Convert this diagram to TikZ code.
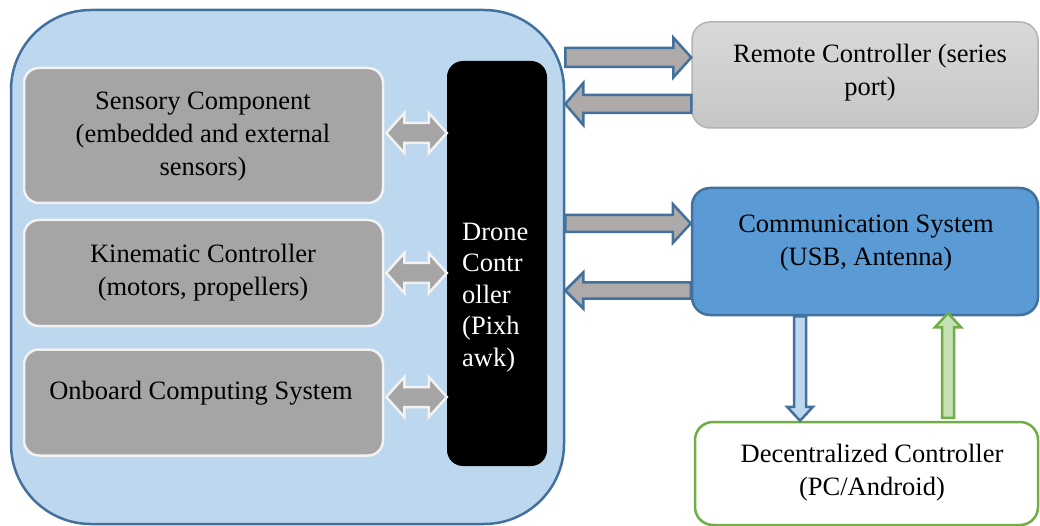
\documentclass[tikz,border=0pt]{standalone}
\usepackage{fontspec}
\setmainfont{Liberation Serif}
\usetikzlibrary{calc}

\definecolor{panelblue}{HTML}{BDD7EE}
\definecolor{edgeblue}{HTML}{41719C}
\definecolor{unitgray}{HTML}{A5A5A5}
\definecolor{rimgray}{HTML}{F2F2F2}
\definecolor{linkgray}{HTML}{AEAAAA}
\definecolor{commblue}{HTML}{5B9BD5}
\definecolor{leafgreen}{HTML}{70AD47}
\definecolor{palegreen}{HTML}{C5E0B4}
\definecolor{remotetop}{HTML}{D9D9D9}
\definecolor{remotebot}{HTML}{C6C6C6}
\definecolor{remoteedge}{HTML}{B4B4B4}

% block arrow from tail #2 to tip #3; #4 shaft half-width, #5 head half-width
\newcommand\blockarrow[5]{%
  \coordinate (hb) at ($(#3)!18pt!(#2)$);
  \draw[#1] ($(#2)!#4!90:(#3)$) -- ($(hb)!#4!90:(#3)$) -- ($(hb)!#5!90:(#3)$)
    -- (#3) -- ($(hb)!#5!-90:(#3)$) -- ($(hb)!#4!-90:(#3)$)
    -- ($(#2)!#4!-90:(#3)$) -- cycle;}
% two-headed block arrow between #2 and #3
\newcommand\twinarrow[5]{%
  \coordinate (hb) at ($(#3)!18pt!(#2)$);
  \coordinate (ha) at ($(#2)!18pt!(#3)$);
  \draw[#1] (#2) -- ($(ha)!#5!90:(#3)$) -- ($(ha)!#4!90:(#3)$)
    -- ($(hb)!#4!90:(#3)$) -- ($(hb)!#5!90:(#3)$) -- (#3)
    -- ($(hb)!#5!-90:(#3)$) -- ($(hb)!#4!-90:(#3)$)
    -- ($(ha)!#4!-90:(#3)$) -- ($(ha)!#5!-90:(#3)$) -- cycle;}
% short vertical block arrow (narrower)
\newcommand\slimarrow[3]{%
  \coordinate (hb) at ($(#3)!14pt!(#2)$);
  \draw[#1] ($(#2)!6pt!90:(#3)$) -- ($(hb)!6pt!90:(#3)$) -- ($(hb)!13pt!90:(#3)$)
    -- (#3) -- ($(hb)!13pt!-90:(#3)$) -- ($(hb)!6pt!-90:(#3)$)
    -- ($(#2)!6pt!-90:(#3)$) -- cycle;}

\begin{document}
\begin{tikzpicture}[x=1pt,y=-1pt,
  txt/.style={font=\fontsize{26.5}{33}\selectfont, align=center, inner sep=0pt},
  unitbox/.style={draw=rimgray, line width=2.5pt, fill=unitgray, rounded corners=15pt},
  sidebox/.style={line width=2.5pt, rounded corners=18pt},
  linkarrow/.style={draw=edgeblue, fill=linkgray, line width=2.5pt, line join=miter},
  innerarrow/.style={draw=rimgray, fill=unitgray, line width=2.5pt, line join=miter}]
\useasboundingbox (0,0) rectangle (1040,526);

% drone enclosure
\node[draw=edgeblue, fill=panelblue, line width=2.5pt, rounded corners=80pt,
      minimum width=553pt, minimum height=514pt] (drone) at (287.5,267) {};

% onboard units
\node[unitbox, minimum width=359pt, minimum height=135pt] (sensory) at (203.5,135.5) {};
\node[unitbox, minimum width=359pt, minimum height=106pt] (kinematic) at (203.5,273) {};
\node[unitbox, minimum width=359pt, minimum height=106pt] (onboard) at (203.5,402.5) {};
\node[fill=black, rounded corners=16pt, minimum width=100pt, minimum height=405pt] (pixhawk) at (497,263.5) {};

% external units
\node[sidebox, draw=remoteedge, line width=1.5pt, top color=remotetop, bottom color=remotebot,
      minimum width=346pt, minimum height=106pt] (remote) at (865,75) {};
\node[sidebox, draw=edgeblue, fill=commblue, minimum width=346pt, minimum height=127pt] (comm) at (865,251.5) {};
\node[sidebox, draw=leafgreen, fill=white, minimum width=343pt, minimum height=103pt] (decent) at (866.5,473.5) {};

% labels
\node[txt] (sensoryText) at (203,136.5) {Sensory Component\\(embedded and external\\sensors)};
\node[txt] (kinematicText) at (203,272.5) {Kinematic Controller\\(motors, propellers)};
\node[txt] (onboardText) at (201,393.5) {Onboard Computing System};
\node[txt, align=left, anchor=west, text=white, font=\fontsize{26.5}{31.5}\selectfont] (pixhawkText) at (462,297.5)
  {Drone\\Contr\\oller\\(Pixh\\awk)};
\node[txt] (remoteText) at (870,73) {Remote Controller (series\\port)};
\node[txt] (commText) at (866,243.5) {Communication System\\(USB, Antenna)};
\node[txt] (decentText) at (872,472.5) {Decentralized Controller\\(PC/Android)};

% rows used by the links
\coordinate (r1) at (0,57.5);
\coordinate (r2) at (0,104);
\coordinate (r3) at (0,223.5);
\coordinate (r4) at (0,290.5);
\coordinate (c1) at (800,0);
\coordinate (c2) at (948,0);
\coordinate (s1) at (0,133);
\coordinate (s2) at (0,273);
\coordinate (s3) at (0,397);

% links between the drone and the ground side
\coordinate (a1) at (drone.east |- r1);  \coordinate (b1) at (remote.west |- r1);
\coordinate (a2) at (remote.west |- r2); \coordinate (b2) at (drone.east |- r2);
\coordinate (a3) at (drone.east |- r3);  \coordinate (b3) at (comm.west |- r3);
\coordinate (a4) at (comm.west |- r4);   \coordinate (b4) at (drone.east |- r4);
\blockarrow{linkarrow}{a1}{b1}{9.5pt}{20pt}
\blockarrow{linkarrow}{a2}{b2}{9pt}{21pt}
\blockarrow{linkarrow}{a3}{b3}{8.5pt}{19.5pt}
\blockarrow{linkarrow}{a4}{b4}{8pt}{18pt}

% links between the units and the flight controller
\coordinate (u1) at ($(sensory.east |- s1)+(2,0)$);   \coordinate (v1) at (pixhawk.west |- s1);
\coordinate (u2) at ($(kinematic.east |- s2)+(2,0)$); \coordinate (v2) at (pixhawk.west |- s2);
\coordinate (u3) at ($(onboard.east |- s3)+(2,0)$);   \coordinate (v3) at (pixhawk.west |- s3);
\twinarrow{innerarrow}{u1}{v1}{10pt}{20pt}
\twinarrow{innerarrow}{u2}{v2}{10pt}{20pt}
\twinarrow{innerarrow}{u3}{v3}{10pt}{20pt}

% links between the communication system and the ground station
\coordinate (d1) at (comm.south -| c1);   \coordinate (e1) at (decent.north -| c1);
\coordinate (d2) at ($(decent.north -| c2)+(0,-3)$); \coordinate (e2) at ($(comm.south -| c2)+(0,-3)$);
\slimarrow{draw=edgeblue, fill=panelblue, line width=2.5pt}{d1}{e1}
\slimarrow{draw=leafgreen, fill=palegreen, line width=2.5pt}{d2}{e2}
\end{tikzpicture}
\end{document}
